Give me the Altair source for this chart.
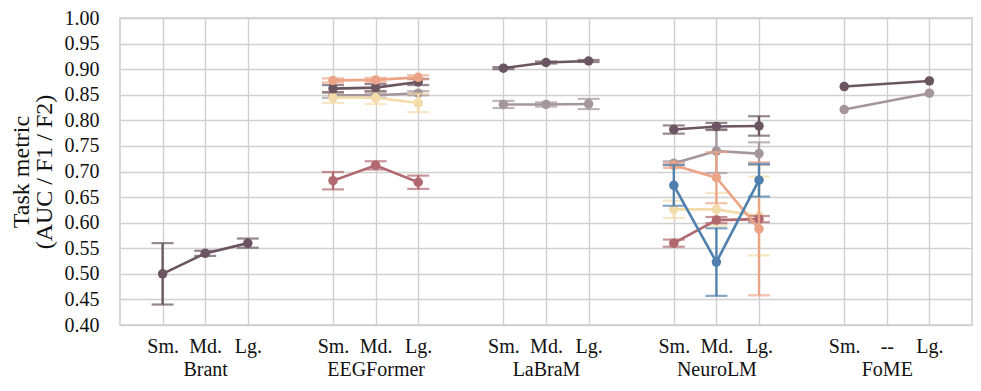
import altair as alt
import pandas as pd

# ---- data ----
groups = ["Brant", "EEGFormer", "LaBraM", "NeuroLM", "FoME"]
size_labels = ["Sm.", "Md.", "Lg."]
fome_mid_label = "--"

series_order = ["gray", "yellow", "dark", "rose", "peach", "blue"]
series_colors = ["#a5969b", "#f4dcaa", "#6a5561", "#b1686f", "#eca487", "#4f80ad"]

# values per series: group -> [Sm, Md, Lg]  (None = not reported)
dark_vals = {"Brant": [0.500, 0.540, 0.560], "EEGFormer": [0.862, 0.864, 0.875],
             "LaBraM": [0.902, 0.913, 0.916], "NeuroLM": [0.782, 0.788, 0.789],
             "FoME": [0.866, None, 0.877]}
dark_errs = {"Brant": [0.060, 0.005, 0.009], "EEGFormer": [0.007, 0.007, 0.006],
             "LaBraM": [0.002, 0.002, 0.002], "NeuroLM": [0.008, 0.007, 0.019],
             "FoME": [None, None, None]}

gray_vals = {"EEGFormer": [0.849, 0.849, 0.853], "LaBraM": [0.831, 0.831, 0.832],
             "NeuroLM": [0.716, 0.740, 0.735], "FoME": [0.821, None, 0.853]}
gray_errs = {"EEGFormer": [0.005, 0.005, 0.004], "LaBraM": [0.007, 0.004, 0.010],
             "NeuroLM": [0.004, 0.043, 0.022], "FoME": [None, None, None]}

yellow_vals = {"EEGFormer": [0.844, 0.844, 0.834], "NeuroLM": [0.626, 0.626, 0.613]}
yellow_errs = {"EEGFormer": [0.010, 0.012, 0.018], "NeuroLM": [0.017, 0.032, 0.077]}

rose_vals = {"EEGFormer": [0.682, 0.712, 0.679], "NeuroLM": [0.560, 0.605, 0.607]}
rose_errs = {"EEGFormer": [0.017, 0.008, 0.013], "NeuroLM": [0.007, 0.006, 0.006]}

peach_vals = {"EEGFormer": [0.878, 0.879, 0.884], "NeuroLM": [0.712, 0.688, 0.588]}
peach_errs = {"EEGFormer": [0.004, 0.004, 0.004], "NeuroLM": [0.005, 0.050, 0.130]}

blue_vals = {"NeuroLM": [0.673, 0.523, 0.683]}
blue_errs = {"NeuroLM": [0.040, 0.066, 0.032]}

all_vals = {"dark": dark_vals, "gray": gray_vals, "yellow": yellow_vals,
            "rose": rose_vals, "peach": peach_vals, "blue": blue_vals}
all_errs = {"dark": dark_errs, "gray": gray_errs, "yellow": yellow_errs,
            "rose": rose_errs, "peach": peach_errs, "blue": blue_errs}

# ---- build long table ----
rows = []
for s in series_order:
    for g, vals in all_vals[s].items():
        gi = groups.index(g)
        for si, v in enumerate(vals):
            if v is None:
                continue
            e = all_errs[s][g][si]
            rows.append({"series": s, "group": g, "pos": gi * 4 + si, "value": v,
                         "lo": None if e is None else v - e,
                         "hi": None if e is None else v + e})
df = pd.DataFrame(rows)

# tick positions and (multi-line) labels
tick_pos = []
label_list = [""] * (len(groups) * 4)
for gi, g in enumerate(groups):
    for si, lab in enumerate(size_labels):
        p = gi * 4 + si
        tick_pos.append(p)
        if si == 1:
            mid = fome_mid_label if g == "FoME" else lab
            label_list[p] = [mid, g]
        else:
            label_list[p] = lab


def js(v):
    if isinstance(v, list):
        return "[" + ",".join(js(x) for x in v) + "]"
    return "'" + v + "'"


label_expr = js(label_list) + "[datum.value]"

FONT = "Liberation Serif"
TXT = "#111111"
color_scale = alt.Scale(domain=series_order, range=series_colors)
x_scale = alt.Scale(domain=[-1, 19], nice=False, zero=False)
y_scale = alt.Scale(domain=[0.4, 1.0], nice=False, zero=False)
y_ticks = [round(0.40 + 0.05 * i, 2) for i in range(13)]

x_axis = alt.Axis(values=tick_pos, labelExpr=label_expr, title=None)
y_axis = alt.Axis(values=y_ticks, format=".2f", title=["Task metric", "(AUC / F1 / F2)"])


def X():
    return alt.X("pos:Q", scale=x_scale, axis=x_axis)


def Y(field):
    return alt.Y(field, scale=y_scale, axis=y_axis)


base = alt.Chart(df)
layers = []
for s in series_order:
    b = base.transform_filter(alt.datum.series == s)
    col = alt.Color("series:N", scale=color_scale, legend=None)
    line = b.mark_line(strokeWidth=2.6).encode(x=X(), y=Y("value:Q"), color=col,
                                                detail="group:N", order="pos:Q")
    eb = b.transform_filter("isValid(datum.lo)")
    rule = eb.mark_rule(strokeWidth=2.3).encode(x=X(), y=Y("lo:Q"), y2="hi:Q", color=col)
    cap_lo = eb.mark_tick(orient="horizontal", size=22, thickness=2.2).encode(
        x=X(), y=Y("lo:Q"), color=col)
    cap_hi = eb.mark_tick(orient="horizontal", size=22, thickness=2.2).encode(
        x=X(), y=Y("hi:Q"), color=col)
    pts = b.mark_circle(size=90, opacity=1).encode(x=X(), y=Y("value:Q"), color=col)
    layers += [line, rule, cap_lo, cap_hi, pts]

chart = alt.layer(*layers).properties(
    width=852, height=307,
    autosize=alt.AutoSizeParams(type="none"),
    padding={"left": 112, "top": 10, "right": 1, "bottom": 58},
).configure_view(stroke="#cccccc", strokeWidth=1.5
).configure_axis(
    gridColor="#d0d0d0", gridWidth=1.4, grid=True, ticks=False, domain=False,
    labelFont=FONT, labelColor=TXT, labelFontSize=20,
    labelOverlap=False, labelFlush=False,
    titleFont=FONT, titleColor=TXT, titleFontWeight="normal", titleFontSize=24,
).configure_axisX(
    labelAngle=0, labelPadding=11, labelLineHeight=23,
).configure_axisY(
    labelPadding=21, titlePadding=8, titleLineHeight=23,
)

chart.save("out.html", embed_options={"renderer": "svg", "actions": False})
